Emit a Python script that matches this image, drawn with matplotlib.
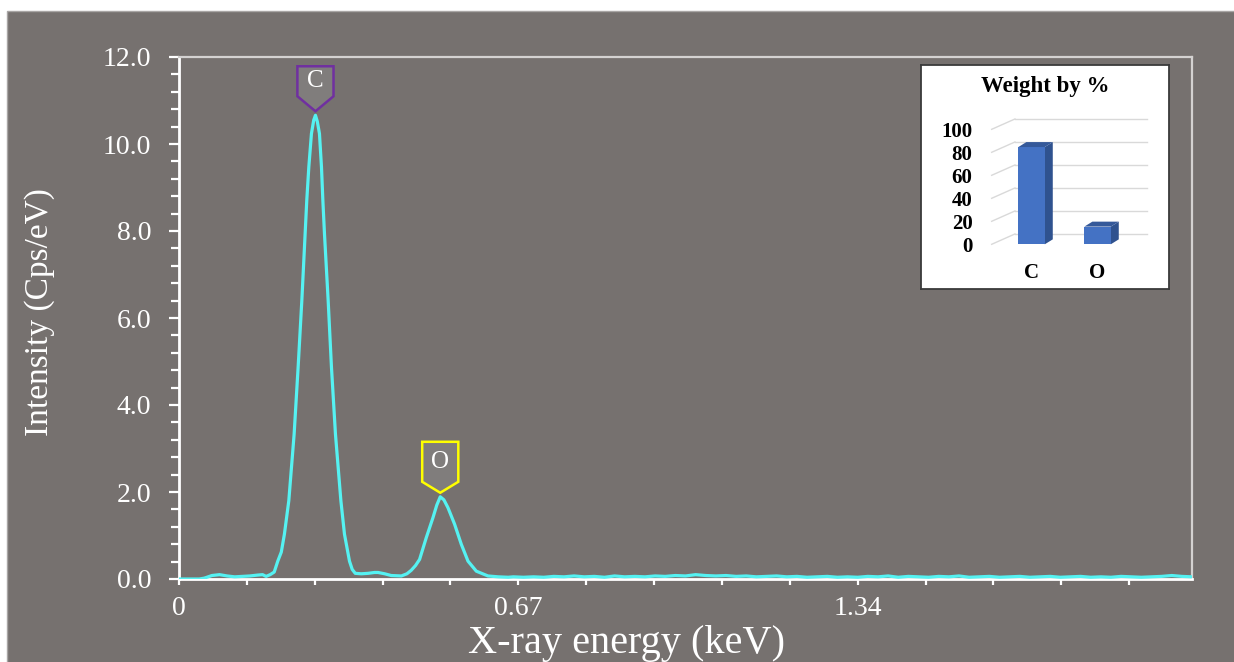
import matplotlib
matplotlib.use("Agg")
import matplotlib.pyplot as plt
from matplotlib.patches import Rectangle, Polygon
from matplotlib.transforms import Affine2D, ScaledTranslation

# ==========================================
# EDS SPECTRUM DATA
# ==========================================

energy_kev = [
    0.000, 0.020, 0.040, 0.050, 0.065, 0.080, 0.095, 0.110, 0.125, 0.140,
    0.155, 0.165, 0.172, 0.180, 0.188, 0.1950, 0.2020, 0.2081, 0.2168, 0.2273,
    0.2352, 0.2425, 0.2490, 0.2523, 0.2563, 0.2615, 0.2660, 0.2694, 0.2730, 0.2773,
    0.2813, 0.2840, 0.2872, 0.2945, 0.3010, 0.3089, 0.3196, 0.3267, 0.3366, 0.3420,
    0.3480, 0.3600, 0.3730, 0.3860, 0.3930, 0.4060, 0.4190, 0.4390, 0.4500, 0.4585,
    0.4670, 0.4750, 0.4882, 0.5014, 0.5090, 0.5158, 0.5230, 0.5310, 0.5441, 0.5573,
    0.5706, 0.5870, 0.6100, 0.6300, 0.6500,
    0.66, 0.68, 0.70, 0.72, 0.74, 0.76, 0.78, 0.80, 0.82, 0.84,
    0.86, 0.88, 0.90, 0.92, 0.94, 0.96, 0.98, 1.00, 1.02, 1.04,
    1.06, 1.08, 1.10, 1.12, 1.14, 1.16, 1.18, 1.20, 1.22, 1.24,
    1.26, 1.28, 1.30, 1.32, 1.34, 1.36, 1.38, 1.40, 1.42, 1.44,
    1.46, 1.48, 1.50, 1.52, 1.54, 1.56, 1.58, 1.60, 1.62, 1.64,
    1.66, 1.68, 1.70, 1.72, 1.74, 1.76, 1.78, 1.80, 1.82, 1.84,
    1.86, 1.88, 1.90, 1.92, 1.94, 1.96, 1.98, 2.00,
]

intensity = [
    0.00, 0.00, 0.00, 0.02, 0.08, 0.10, 0.07, 0.05, 0.06, 0.07,
    0.09, 0.10, 0.06, 0.10, 0.16, 0.41, 0.62, 1.03, 1.80, 3.33,
    4.87, 6.40, 7.94, 8.71, 9.47, 10.24, 10.55, 10.66, 10.52, 10.24,
    9.47, 8.71, 7.94, 6.40, 4.87, 3.33, 1.80, 1.03, 0.41, 0.22,
    0.13, 0.12, 0.13, 0.15, 0.15, 0.12, 0.08, 0.07, 0.12, 0.20,
    0.31, 0.45, 0.95, 1.41, 1.70, 1.89, 1.82, 1.64, 1.26, 0.80,
    0.41, 0.18, 0.07, 0.05, 0.04,
    0.05, 0.04, 0.05, 0.04, 0.06, 0.05, 0.07, 0.05, 0.06, 0.04,
    0.07, 0.05, 0.06, 0.05, 0.07, 0.06, 0.08, 0.07, 0.10, 0.08,
    0.07, 0.08, 0.06, 0.07, 0.05, 0.06, 0.07, 0.05, 0.06, 0.04,
    0.05, 0.06, 0.04, 0.05, 0.04, 0.06, 0.05, 0.07, 0.04, 0.06,
    0.05, 0.04, 0.06, 0.05, 0.07, 0.04, 0.05, 0.06, 0.04, 0.05,
    0.06, 0.04, 0.05, 0.06, 0.04, 0.05, 0.06, 0.04, 0.05, 0.04,
    0.06, 0.05, 0.04, 0.05, 0.06, 0.08, 0.06, 0.05,
]

# peak markers
peak_elements = ["C", "O"]
peak_energy = [0.2694, 0.5158]
peak_height = [10.66, 1.89]
peak_colors = ["#7030a0", "#ffff00"]

# composition inset
weight_elements = ["C", "O"]
weight_percent = [84.6, 15.4]

x_ticks = [0.134 * k for k in range(15)]
x_tick_labels = ["0" if k == 0 else ("0.67" if k == 5 else ("1.34" if k == 10 else "")) for k in range(15)]

# ==========================================
# FIGURE
# ==========================================

SERIF = "Liberation Serif"
PANEL = "#76716f"

fig = plt.figure(figsize=(12.34, 6.62), dpi=100)
fig.patch.set_facecolor("white")

panel = Rectangle((7 / 1234, -0.01), 1.0, 1 - 11 / 662 + 0.01,
                  transform=fig.transFigure, facecolor=PANEL,
                  edgecolor="#a9a6a5", linewidth=1.0, zorder=0)
fig.add_artist(panel)

ax = fig.add_axes([179 / 1234, 83 / 662, 1013 / 1234, 522 / 662])
ax.set_facecolor("none")

ax.plot(energy_kev, intensity, color="#55f2f2", linewidth=2.3, zorder=3)

ax.set_xlim(0, 2.0)
ax.set_ylim(0, 12.0)

ax.set_xticks(x_ticks)
ax.set_xticklabels(x_tick_labels)
ax.set_yticks([0, 2, 4, 6, 8, 10, 12])
ax.set_yticklabels([f"{v:.1f}" for v in [0, 2, 4, 6, 8, 10, 12]])
ax.set_yticks([0.4 * k for k in range(31) if k % 5 != 0], minor=True)

ax.tick_params(axis="x", colors="white", length=4.5, width=1.6, pad=8,
               labelsize=20, direction="out")
ax.tick_params(axis="y", which="major", colors="white", length=7, width=1.6,
               pad=13, labelsize=20, direction="out")
ax.tick_params(axis="y", which="minor", colors="white", length=6, width=1.6,
               direction="out")
for lbl in ax.get_xticklabels() + ax.get_yticklabels():
    lbl.set_fontfamily(SERIF)

for side in ["left", "bottom"]:
    ax.spines[side].set_color("white")
    ax.spines[side].set_linewidth(2.0)
for side in ["top", "right"]:
    ax.spines[side].set_color("#d4d2d1")
    ax.spines[side].set_linewidth(1.6)

fig.text(40 / 1234, 1 - 312 / 662, "Intensity (Cps/eV)", rotation=90,
         ha="center", va="center", color="white", fontsize=24, family=SERIF)
fig.text(626 / 1234, 1 - 653 / 662, "X-ray energy (keV)", ha="center",
         va="baseline", color="white", fontsize=29, family=SERIF)

# ==========================
# PEAK LABEL SHIELDS
# ==========================

# (side bottom, top, text centre) in points above the peak
shield_dims = [(13.7, 35.3, 24.5), (10.8, 39.6, 25.2)]
for el, ex, ey, col, (sb, top, tc) in zip(peak_elements, peak_energy,
                                           peak_height, peak_colors, shield_dims):
    tr = Affine2D().scale(fig.dpi / 72) + ScaledTranslation(ex, ey, ax.transData)
    verts = [(-13, sb), (-13, top), (13, top), (13, sb), (0, 2.9)]
    ax.add_patch(Polygon(verts, closed=True, transform=tr, facecolor="#807d7c",
                         edgecolor=col, linewidth=1.8, clip_on=False, zorder=5))
    ax.annotate(el, xy=(ex, ey), xytext=(0, tc), textcoords="offset points",
                ha="center", va="center", color="white", fontsize=18,
                family=SERIF, zorder=6, annotation_clip=False)

# ==========================
# WEIGHT % INSET
# ==========================

box = fig.add_axes([921 / 1234, (662 - 289.3) / 662, 248.3 / 1234, 224.3 / 662])
box.set_facecolor("white")
box.set_xticks([])
box.set_yticks([])
for s in box.spines.values():
    s.set_color("#3a3a3a")
    s.set_linewidth(1.3)
box.text(0.5, 0.905, "Weight by %", transform=box.transAxes, ha="center",
         va="center", fontsize=16.5, fontweight="bold", family=SERIF, color="black")

ins = fig.add_axes([985 / 1234, (662 - 250) / 662, 170 / 1234, 140 / 662])
ins.set_facecolor("none")
ins.set_xlim(-0.706, 1.870)
ins.set_ylim(-4.96, 116.8)
for s in ins.spines.values():
    s.set_visible(False)

# back wall + floor depth, bar depth (data units)
wall_dx, wall_dy = 0.353, 9.0
bar_dx, bar_dy = 0.121, 4.3
front_left, back_right = -0.605, 1.744

for v in range(0, 101, 20):
    ins.plot([front_left, front_left + wall_dx], [v, v + wall_dy],
             color="#d9d9d9", linewidth=1.0, zorder=1)
    ins.plot([front_left + wall_dx, back_right], [v + wall_dy, v + wall_dy],
             color="#d9d9d9", linewidth=1.0, zorder=1)

bar_w = 0.40
idx = list(range(len(weight_elements)))
ins.bar(idx, weight_percent, width=bar_w, color="#4472c4", zorder=3)
for i, v in zip(idx, weight_percent):
    r = i + bar_w / 2
    l = i - bar_w / 2
    ins.add_patch(Polygon([(r, 0), (r + bar_dx, bar_dy), (r + bar_dx, v + bar_dy), (r, v)],
                          closed=True, facecolor="#2f528f", edgecolor="none", zorder=2))
    ins.add_patch(Polygon([(l, v), (l + bar_dx, v + bar_dy), (r + bar_dx, v + bar_dy), (r, v)],
                          closed=True, facecolor="#35599a", edgecolor="none", zorder=4))

ins.set_xticks(idx)
ins.set_xticklabels(weight_elements)
ins.set_yticks(range(0, 101, 20))
ins.tick_params(length=0, labelsize=15)
ins.tick_params(axis="y", pad=9)
ins.tick_params(axis="x", pad=9)
for lbl in ins.get_xticklabels() + ins.get_yticklabels():
    lbl.set_fontfamily(SERIF)
    lbl.set_fontweight("bold")

fig.savefig("out.png", dpi=100)
